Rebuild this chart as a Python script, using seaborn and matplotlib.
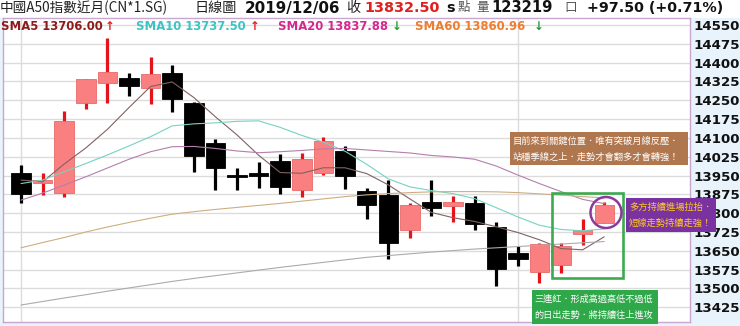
import numpy as np
import pandas as pd
import matplotlib
matplotlib.use("Agg")
import matplotlib.pyplot as plt
import seaborn as sns
from matplotlib.patches import Rectangle, Ellipse

# ---------------- data ----------------
opens  = [13959, 13922, 13882, 14238, 14318, 14338, 14298, 14357, 14240, 14081,
          13947, 13954, 14009, 13892, 13959, 14049, 13890, 13872, 13733, 13846,
          13829, 13842, 13746, 13642, 13564, 13593, 13716, 13760]
highs  = [13992, 13959, 14207, 14336, 14498, 14360, 14421, 14391, 14242, 14096,
          13981, 14005, 14036, 14039, 14105, 14068, 13899, 13932, 13842, 13932,
          13870, 13868, 13766, 13669, 13682, 13680, 13776, 13846]
lows   = [13839, 13872, 13863, 14214, 14240, 14268, 14234, 14204, 13965, 13892,
          13892, 13899, 13876, 13863, 13952, 13896, 13776, 13616, 13702, 13789,
          13766, 13733, 13510, 13591, 13520, 13563, 13673, 13760]
closes = [13876, 13931, 14167, 14334, 14364, 14308, 14353, 14254, 14028, 13979,
          13944, 13950, 13905, 14015, 14089, 13948, 13833, 13680, 13833, 13820,
          13846, 13757, 13576, 13616, 13676, 13669, 13733, 13832.5]

sma5  = [13932, 13925, 13996, 14060, 14134, 14221, 14305, 14323, 14261, 14184,
         14112, 14031, 13962, 13959, 13981, 13981, 13958, 13913, 13857, 13803,
         13782, 13767, 13746, 13723, 13694, 13659, 13654, 13706]
sma10 = [13918, 13932, 13965, 13998, 14032, 14068, 14105, 14148, 14156, 14160,
         14166, 14168, 14142, 14110, 14083, 14047, 13995, 13937, 13905, 13890,
         13878, 13858, 13822, 13785, 13752, 13735, 13730, 13737]
sma20 = [13852, 13880, 13912, 13945, 13980, 14015, 14045, 14065, 14066, 14058,
         14048, 14041, 14045, 14050, 14056, 14058, 14052, 14046, 14040, 14030,
         14024, 14015, 13988, 13952, 13918, 13886, 13855, 13838]
sma60 = [13662, 13683, 13703, 13725, 13745, 13763, 13780, 13796, 13806, 13815,
         13823, 13831, 13839, 13848, 13857, 13866, 13873, 13878, 13882, 13885,
         13886, 13886, 13885, 13882, 13877, 13872, 13866, 13861]
sma_long = [13434, 13448, 13462, 13475, 13489, 13502, 13515, 13528, 13540, 13551,
            13562, 13573, 13584, 13594, 13604, 13614, 13624, 13631, 13638, 13645,
            13651, 13657, 13662, 13667, 13672, 13677, 13682, 13687]

yticks = [14550, 14475, 14400, 14325, 14250, 14175, 14100, 14025, 13950,
          13875, 13800, 13725, 13650, 13575, 13500, 13425]

W, H = 740, 326

# ---------------- figure ----------------
sns.set_style("white")
plt.rcParams['font.family'] = ['DejaVu Sans', 'Noto Sans CJK TC']
CJK = ['Noto Sans CJK TC', 'DejaVu Sans']

fig = plt.figure(figsize=(W / 100, H / 100), dpi=100)
fig.patch.set_facecolor('#E8F3FB')
fig.add_artist(Rectangle((0, 1 - 18 / H), 1, 18 / H, transform=fig.transFigure,
                         facecolor='white', edgecolor='none', zorder=-1))

ax = fig.add_axes([3 / W, 4 / H, 687 / W, 304 / H])
ax.set_facecolor('white')

n = len(closes)
idx = np.arange(n)
df = pd.DataFrame({'i': idx, 'open': opens, 'high': highs, 'low': lows, 'close': closes})
df['up'] = df['close'] >= df['open']

# wicks
wick_cols = np.where(df['up'], '#E5141A', '#000000')
ax.vlines(df['i'], df['low'], df['high'], colors=wick_cols, lw=2.3, zorder=2)

# bodies
body_h = (df['close'] - df['open']).abs().clip(lower=9)
body_b = df[['open', 'close']].min(axis=1)
face = np.where(df['up'], '#F97F80', '#000000')
edge = np.where(df['up'], '#E86A6A', '#000000')
ax.bar(df['i'], body_h, bottom=body_b, width=0.9, color=face, edgecolor=edge,
       linewidth=0.6, zorder=3)

# moving averages via seaborn
ma = pd.DataFrame({
    'i': np.tile(idx, 5),
    'v': sma5 + sma10 + sma20 + sma60 + sma_long,
    'ma': ['SMA5'] * n + ['SMA10'] * n + ['SMA20'] * n + ['SMA60'] * n + ['L'] * n,
})
pal = {'SMA5': '#806262', 'SMA10': '#74D3C3', 'SMA20': '#B47FAC',
       'SMA60': '#D0AD80', 'L': '#ABABAB'}
sns.lineplot(data=ma, x='i', y='v', hue='ma', palette=pal, legend=False,
             linewidth=0.8, ax=ax, zorder=4)

ax.set_xlim(-0.833, 30.97)
ax.set_ylim(13366.3, 14577.9)
ax.set_xlabel('')
ax.set_ylabel('')
ax.set_xticks([])
for v in yticks:
    ax.axhline(v, color='#DCDCDC', lw=1.0, zorder=0)
for xv in (0, 23):
    ax.axvline(xv, color='#DCDCDC', lw=1.0, zorder=0)

ax.yaxis.tick_right()
ax.set_yticks(yticks)
ax.set_yticklabels([str(t) for t in yticks], fontsize=9.6, fontweight='bold',
                   color='#111111')
ax.tick_params(axis='y', length=0, pad=2.5)
for s in ax.spines.values():
    s.set_color('#C9A6CF')
    s.set_linewidth(1.0)

# ---------------- header texts ----------------
def ft(x, y, s, **kw):
    kw.setdefault('va', 'center')
    return fig.text(x / W, 1 - y / H, s, **kw)

ft(0, 8, '中國A50指數近月(CN*1.SG)', family=CJK, fontsize=9.8, color='#222222')
ft(195, 8, '日線圖', family=CJK, fontsize=10.2, color='#222222')
ft(245, 8, '2019/12/06', fontsize=10.9, fontweight='bold', color='#111111')
ft(346, 8, '收', family=CJK, fontsize=10.2, color='#222222')
ft(364, 8, '13832.50', fontsize=10.4, fontweight='bold', color='#E0201E')
ft(446, 8, 's', fontsize=10.4, fontweight='bold', color='#111111')
ft(458, 8, '點', family=CJK, fontsize=9, color='#555555')
ft(476, 8, '量', family=CJK, fontsize=9, color='#555555')
ft(491, 8, '123219', fontsize=10.6, fontweight='bold', color='#111111')
ft(564, 8, '口', family=CJK, fontsize=9, color='#555555')
ft(587, 8, '+97.50 (+0.71%)', fontsize=10.3, fontweight='bold', color='#111111')

ft(1, 26, 'SMA5 13706.00', fontsize=8.4, fontweight='bold', color='#8E1B1B')
ft(105, 26, '↑', fontsize=8.4, fontweight='bold', color='#E02020')
ft(136, 26, 'SMA10 13737.50', fontsize=8.4, fontweight='bold', color='#3CC4C4')
ft(250, 26, '↑', fontsize=8.4, fontweight='bold', color='#E02020')
ft(278, 26, 'SMA20 13837.88', fontsize=8.4, fontweight='bold', color='#D4288E')
ft(392, 26, '↓', fontsize=8.4, fontweight='bold', color='#1E9E2E')
ft(415, 26, 'SMA60 13860.96', fontsize=8.4, fontweight='bold', color='#EC7D32')
ft(534, 26, '↓', fontsize=8.4, fontweight='bold', color='#1E9E2E')

# ---------------- annotations ----------------
def frect(x0, y0, x1, y1, **kw):
    r = Rectangle((x0 / W, 1 - y1 / H), (x1 - x0) / W, (y1 - y0) / H,
                  transform=fig.transFigure, **kw)
    fig.add_artist(r)
    return r

# brown note
frect(510, 132, 688, 165.5, facecolor='#B0764E', edgecolor='none', zorder=5)
ft(513, 141, '目前來到關鍵位置．唯有突破月線反壓．', family=CJK, fontsize=6.7,
   color='white', zorder=6)
ft(513, 157.5, '站穩季線之上．走勢才會翻多才會轉強！', family=CJK, fontsize=6.7,
   color='white', zorder=6)

# purple note
frect(626, 198, 716, 231.5, facecolor='#7A32A0', edgecolor='none', zorder=5)
ft(629, 207.5, '多方持續進場拉抬．', family=CJK, fontsize=6.7, color='#FFC928', zorder=6)
ft(629, 223.5, '短線走勢持續走強！', family=CJK, fontsize=6.7, color='#FFC928', zorder=6)

# green note
frect(532, 290, 658, 323.5, facecolor='#2FA84A', edgecolor='none', zorder=5)
ft(534, 299, '三連紅．形成高過高低不過低', family=CJK, fontsize=6.6, color='white', zorder=6)
ft(534, 315, '的日出走勢．將持續往上進攻', family=CJK, fontsize=6.6, color='white', zorder=6)

# green frame around last candles
frect(552, 193, 623, 278, facecolor='none', edgecolor='#3DAA50', linewidth=1.9, zorder=5)

# purple circle around the last candle
fig.add_artist(Ellipse((606 / W, 1 - 212.5 / H), 31 / W, 31 / H,
                       transform=fig.transFigure, facecolor='none',
                       edgecolor='#8B3A9A', linewidth=1.8, zorder=5))

fig.savefig('out.png', dpi=100, facecolor=fig.get_facecolor())
